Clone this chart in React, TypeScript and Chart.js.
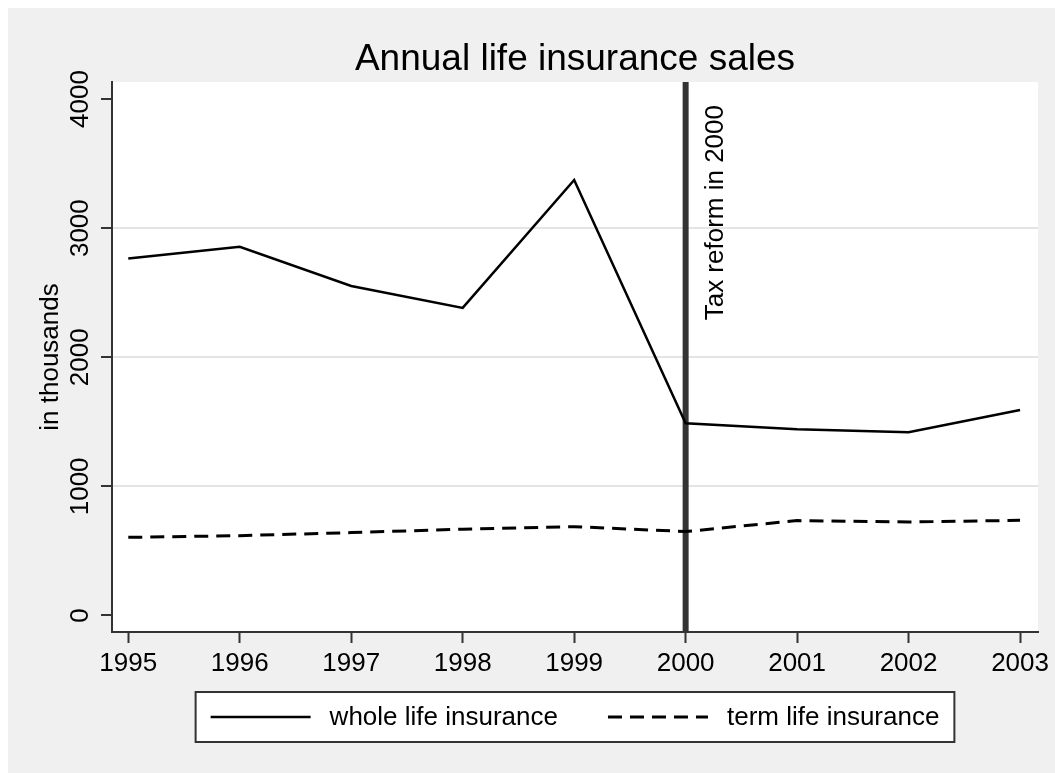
import React, { useEffect, useRef } from "react";
import { Chart, registerables } from "chart.js";

Chart.register(...registerables);

const years = [1995, 1996, 1997, 1998, 1999, 2000, 2001, 2002, 2003];
const wholeLife = [2765, 2855, 2552, 2382, 3373, 1488, 1442, 1419, 1592];
const termLife = [605, 618, 642, 668, 688, 650, 735, 724, 737];
const yTicks = [0, 1000, 2000, 3000, 4000];
const gridValues = [1000, 2000, 3000];
const seriesNames = ["whole life insurance", "term life insurance"];
const reformYear = 2000;
const reformLabel = "Tax reform in 2000";
const titleText = "Annual life insurance sales";
const yTitleText = "in thousands";

const FONT = "'Liberation Sans', Arial, Helvetica, sans-serif";
const W = 1047;
const H = 765;

const customPlugin = {
  id: "stataDecor",
  beforeDraw(chart: any) {
    const { ctx, chartArea } = chart;
    ctx.save();
    ctx.fillStyle = "#ffffff";
    ctx.fillRect(chartArea.left, chartArea.top, chartArea.right - chartArea.left, chartArea.bottom - chartArea.top);
    ctx.restore();
  },
  beforeDatasetsDraw(chart: any) {
    const { ctx, chartArea, scales } = chart;
    const x = scales.x.getPixelForValue(reformYear);
    ctx.save();
    ctx.strokeStyle = "#333333";
    ctx.lineWidth = 6;
    ctx.beginPath();
    ctx.moveTo(x, chartArea.top);
    ctx.lineTo(x, chartArea.bottom);
    ctx.stroke();
    ctx.restore();
  },
  afterDraw(chart: any) {
    const { ctx, chartArea, scales } = chart;
    const yScale = scales.y;
    const xScale = scales.x;
    const cx = (chartArea.left + chartArea.right) / 2;
    ctx.save();
    ctx.fillStyle = "#000";
    // title
    ctx.font = `37px ${FONT}`;
    ctx.textAlign = "center";
    ctx.textBaseline = "alphabetic";
    ctx.fillText(titleText, cx, chartArea.top - 12);

    // y tick labels (rotated)
    ctx.font = `26px ${FONT}`;
    for (const v of yTicks) {
      const py = yScale.getPixelForValue(v);
      ctx.save();
      ctx.translate(chartArea.left - 24, py);
      ctx.rotate(-Math.PI / 2);
      ctx.textAlign = "center";
      ctx.fillText(String(v), 0, 0);
      ctx.restore();
    }
    // y title
    ctx.save();
    ctx.translate(chartArea.left - 54, (chartArea.top + chartArea.bottom) / 2);
    ctx.rotate(-Math.PI / 2);
    ctx.textAlign = "center";
    ctx.fillText(yTitleText, 0, 0);
    ctx.restore();

    // reform label
    const rx = xScale.getPixelForValue(reformYear);
    ctx.save();
    ctx.translate(rx + 37, chartArea.top + 23);
    ctx.rotate(-Math.PI / 2);
    ctx.textAlign = "right";
    ctx.fillText(reformLabel, 0, 0);
    ctx.restore();

    // legend
    const sample = 100;
    const gapText = 19;
    const gapEntry = 50;
    const pad = 15;
    const widths = seriesNames.map((n) => ctx.measureText(n).width);
    const contentW =
      widths.reduce((a, b) => a + b, 0) +
      seriesNames.length * (sample + gapText) +
      gapEntry * (seriesNames.length - 1);
    const boxW = contentW + pad * 2;
    const boxH = 50;
    const boxX = cx - boxW / 2;
    const boxY = chartArea.bottom + 60;
    ctx.fillStyle = "#ffffff";
    ctx.fillRect(boxX, boxY, boxW, boxH);
    ctx.strokeStyle = "#333333";
    ctx.lineWidth = 2;
    ctx.strokeRect(boxX, boxY, boxW, boxH);
    let px = boxX + pad;
    const midY = boxY + boxH / 2;
    chart.data.datasets.forEach((ds: any, i: number) => {
      ctx.save();
      ctx.strokeStyle = ds.borderColor;
      ctx.lineWidth = ds.borderWidth;
      ctx.setLineDash(ds.borderDash || []);
      ctx.beginPath();
      ctx.moveTo(px, midY);
      ctx.lineTo(px + sample, midY);
      ctx.stroke();
      ctx.restore();
      px += sample + gapText;
      ctx.fillStyle = "#000";
      ctx.textAlign = "left";
      ctx.textBaseline = "middle";
      ctx.fillText(seriesNames[i], px, midY + 1);
      px += widths[i] + gapEntry;
    });
    ctx.restore();
  },
};

export default function App() {
  const ref = useRef<HTMLCanvasElement | null>(null);
  useEffect(() => {
    if (!ref.current) return;
    Chart.defaults.font.family = FONT;
    const chart = new Chart(ref.current, {
      type: "line",
      data: {
        datasets: [
          {
            label: seriesNames[0],
            data: years.map((y, i) => ({ x: y, y: wholeLife[i] })),
            borderColor: "#000000",
            borderWidth: 2.5,
            pointRadius: 0,
            tension: 0,
            fill: false,
          },
          {
            label: seriesNames[1],
            data: years.map((y, i) => ({ x: y, y: termLife[i] })),
            borderColor: "#000000",
            borderWidth: 3,
            borderDash: [14, 8],
            pointRadius: 0,
            tension: 0,
            fill: false,
          },
        ],
      },
      options: {
        animation: false,
        responsive: false,
        devicePixelRatio: 1,
        layout: { padding: { top: 74, right: 17, left: 0, bottom: 0 } },
        plugins: {
          legend: { display: false },
          title: { display: false },
          tooltip: { enabled: false },
        },
        scales: {
          x: {
            type: "linear",
            min: 1994.854,
            max: 2003.161,
            afterBuildTicks: (scale: any) => {
              scale.ticks = years.map((v) => ({ value: v }));
            },
            afterFit: (scale: any) => {
              scale.height = 141;
            },
            ticks: {
              callback: (v: any) => String(v),
              font: { size: 26 },
              color: "#000",
              padding: 5,
              maxRotation: 0,
              minRotation: 0,
              autoSkip: false,
            },
            grid: {
              drawOnChartArea: false,
              drawTicks: true,
              tickLength: 11,
              tickColor: "#333333",
              tickWidth: 2,
            },
            border: { display: true, color: "#333333", width: 2 },
          },
          y: {
            type: "linear",
            min: -128,
            max: 4132,
            afterBuildTicks: (scale: any) => {
              scale.ticks = yTicks.map((v) => ({ value: v }));
            },
            afterFit: (scale: any) => {
              scale.width = 104;
            },
            ticks: { display: false },
            grid: {
              color: (c: any) =>
                c.tick && gridValues.includes(c.tick.value) ? "#e4e4e4" : "rgba(0,0,0,0)",
              lineWidth: 2,
              drawTicks: true,
              tickLength: 11,
              tickColor: "#333333",
              tickWidth: 2,
            },
            border: { display: true, color: "#333333", width: 2 },
          },
        },
      },
      plugins: [customPlugin],
    });
    return () => chart.destroy();
  }, []);
  return (
    <div
      style={{
        position: "fixed",
        left: 8,
        top: 8,
        width: W,
        height: H,
        background: "#f0f0f0",
        overflow: "hidden",
      }}
    >
      <canvas ref={ref} width={W} height={H} style={{ display: "block", width: W, height: H }} />
    </div>
  );
}
